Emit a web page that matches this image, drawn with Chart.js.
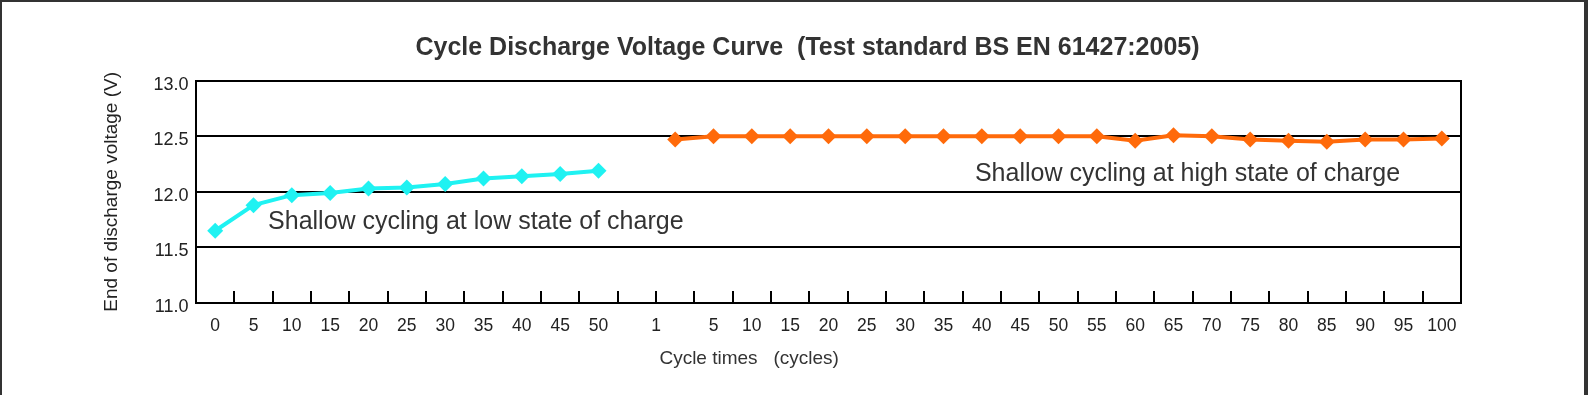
<!DOCTYPE html>
<html>
<head>
<meta charset="utf-8">
<script src="https://cdn.jsdelivr.net/npm/chart.js@4.4.1/dist/chart.umd.min.js"></script>
<style>
html,body{margin:0;padding:0;background:#fff;}
#wrap{position:relative;width:1588px;height:395px;overflow:hidden;background:#fff;}
#c{position:absolute;left:0;top:0;}
#frame{position:absolute;left:0;top:0;width:1588px;height:395px;box-sizing:border-box;border-top:2px solid #333;border-left:2px solid #333;border-right:4px solid #333;pointer-events:none;}
</style>
</head>
<body>
<div id="wrap"><canvas id="c" width="1588" height="395"></canvas><div id="frame"></div></div>
<script>
// ---- data ----
const lowCycles = ['0','5','10','15','20','25','30','35','40','45','50'];
const lowVoltage = [11.65, 11.88, 11.97, 11.99, 12.03, 12.04, 12.07, 12.12, 12.14, 12.16, 12.19];
const highCycles = ['1','5','10','15','20','25','30','35','40','45','50','55','60','65','70','75','80','85','90','95','100'];
const highVoltage = [12.47, 12.50, 12.50, 12.50, 12.50, 12.50, 12.50, 12.50, 12.50, 12.50, 12.50, 12.50, 12.46, 12.51, 12.50, 12.47, 12.46, 12.45, 12.47, 12.47, 12.48];
const yTicks = [11.0, 11.5, 12.0, 12.5, 13.0];
const chartTitle = 'Cycle Discharge Voltage Curve  (Test standard BS EN 61427:2005)';
const yTitle = 'End of discharge voltage (V)';
const xTitle = 'Cycle times   (cycles)';
const lowNote = 'Shallow cycling at low state of charge';
const highNote = 'Shallow cycling at high state of charge';

// ---- derived table for the library ----
const gapLabel = '';
const xLabels = [...lowCycles, gapLabel, ...highCycles];
const gapIndex = lowCycles.length;
const highStart = gapIndex + 1;
const lowData = xLabels.map((_, i) => i < lowCycles.length ? lowVoltage[i] : null);
const highData = xLabels.map((_, i) => i >= highStart ? highVoltage[i - highStart] : null);

const CYAN = '#1FF2F2';
const ORANGE = '#FF6A0A';
const FONT = '"Liberation Sans", Arial, Helvetica, sans-serif';

const tickMarks = {
  id: 'tickMarks',
  afterDatasetsDraw(chart) {
    const xs = chart.scales.x, ca = chart.chartArea, ctx = chart.ctx;
    ctx.save();
    ctx.strokeStyle = '#000';
    ctx.lineWidth = 2;
    for (let k = 1; k < xLabels.length; k++) {
      const px = Math.round(xs.getPixelForValue(k - 0.5));
      ctx.beginPath();
      ctx.moveTo(px, ca.bottom);
      ctx.lineTo(px, ca.bottom - 12);
      ctx.stroke();
    }
    ctx.restore();
  }
};

const notes = {
  id: 'notes',
  afterDatasetsDraw(chart) {
    const xs = chart.scales.x, ys = chart.scales.y, ctx = chart.ctx;
    ctx.save();
    ctx.fillStyle = '#333';
    ctx.font = '25px ' + FONT;
    ctx.textAlign = 'left';
    ctx.textBaseline = 'alphabetic';
    ctx.fillText(lowNote, xs.getPixelForValue(1.38), ys.getPixelForValue(11.665));
    ctx.fillText(highNote, xs.getPixelForValue(19.82), ys.getPixelForValue(12.10));
    // x axis title
    ctx.font = '19px ' + FONT;
    ctx.textAlign = 'center';
    ctx.textBaseline = 'middle';
    ctx.fillText(xTitle, xs.getPixelForValue(13.93), chart.chartArea.bottom + 56);
    ctx.restore();
  }
};

Chart.defaults.font.family = FONT;
Chart.defaults.color = '#222';

new Chart(document.getElementById('c'), {
  type: 'line',
  data: {
    labels: xLabels,
    datasets: [
      {
        label: lowNote,
        data: lowData,
        borderColor: CYAN,
        backgroundColor: CYAN,
        borderWidth: 4,
        pointStyle: 'rectRot',
        pointRadius: 8,
        pointBorderWidth: 0,
        pointBackgroundColor: CYAN,
        tension: 0,
        spanGaps: false
      },
      {
        label: highNote,
        data: highData,
        borderColor: ORANGE,
        backgroundColor: ORANGE,
        borderWidth: 4,
        pointStyle: 'rectRot',
        pointRadius: 8,
        pointBorderWidth: 0,
        pointBackgroundColor: ORANGE,
        tension: 0,
        spanGaps: false
      }
    ]
  },
  options: {
    responsive: false,
    animation: false,
    devicePixelRatio: 1,
    layout: { padding: { left: 27, right: 0, top: 0, bottom: 0 } },
    plugins: {
      legend: { display: false },
      tooltip: { enabled: false },
      title: {
        display: true,
        text: chartTitle,
        color: '#333',
        font: { size: 25, weight: 'bold', family: FONT },
        padding: { top: 33, bottom: 17.7 }
      }
    },
    scales: {
      x: {
        type: 'category',
        offset: true,
        grid: { display: false, drawTicks: false },
        border: { display: true, color: '#000', width: 2 },
        ticks: {
          autoSkip: false,
          maxRotation: 0,
          minRotation: 0,
          padding: 13,
          color: '#222',
          font: { size: 17.5 },
          callback: (v) => xLabels[Math.ceil(v)]
        },
        afterBuildTicks: (scale) => {
          const t = [];
          for (let i = 0; i < lowCycles.length; i++) t.push({ value: i });
          t.push({ value: gapIndex + 0.5 });
          for (let i = highStart + 1; i < xLabels.length; i++) t.push({ value: i });
          scale.ticks = t;
        },
        afterFit: (scale) => { scale.height = 92; }
      },
      y: {
        type: 'linear',
        min: yTicks[0],
        max: yTicks[yTicks.length - 1],
        afterBuildTicks: (scale) => { scale.ticks = yTicks.map(v => ({ value: v })); },
        grid: { color: '#000', lineWidth: 2, drawTicks: false },
        border: { display: true, color: '#000', width: 2 },
        ticks: {
          padding: 7.5,
          labelOffset: 4,
          color: '#222',
          font: { size: 18 },
          callback: (v) => Number(v).toFixed(1)
        },
        title: {
          display: true,
          text: yTitle,
          color: '#222',
          font: { size: 19 },
          padding: { top: 73.6, bottom: 0 }
        },
        afterFit: (scale) => { scale.width = 169; }
      },
      y2: {
        type: 'linear',
        position: 'right',
        display: true,
        min: yTicks[0],
        max: yTicks[yTicks.length - 1],
        grid: { drawOnChartArea: false, drawTicks: false },
        border: { display: true, color: '#000', width: 2 },
        ticks: { display: false },
        afterFit: (scale) => { scale.width = 127; }
      }
    }
  },
  plugins: [tickMarks, notes]
});
</script>
</body>
</html>
